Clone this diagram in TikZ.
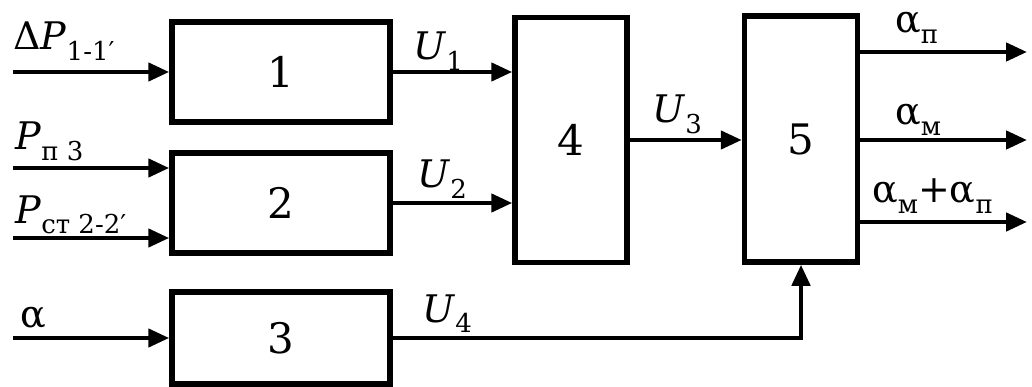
\documentclass[tikz,border=0pt]{standalone}
\usepackage{fontspec}
\setmainfont{DejaVu Serif}
\newfontfamily\lserif{DejaVu Serif}
\usetikzlibrary{arrows.meta}
\newcommand{\lbsub}[1]{\raisebox{-0.28em}{\fontsize{26}{26}\selectfont #1}}
\begin{document}
\begin{tikzpicture}[x=1pt,y=-1pt,
  blk/.style={draw, line width=5.5pt, inner sep=0pt, font=\lserif\fontsize{42}{42}\selectfont},
  arr/.style={line width=4.5pt, -{Triangle[length=21pt,width=18pt]}},
  lbl/.style={anchor=base west, inner sep=0pt, font=\lserif\fontsize{38}{38}\selectfont}]
\useasboundingbox (0,0) rectangle (1032,387);
\node[blk, minimum width=218pt, minimum height=100pt] (b1) at (281,72) {1};
\node[blk, minimum width=218pt, minimum height=100pt] (b2) at (281,203) {2};
\node[blk, minimum width=218pt, minimum height=92pt] (b3) at (281,338) {3};
\node[blk, minimum width=112pt, minimum height=245pt] (b4) at (571,140) {4};
\node[blk, minimum width=113pt, minimum height=246pt] (b5) at (801,139) {5};
% inputs
\coordinate (i1) at (13,72);
\coordinate (i2) at (13,168);
\coordinate (i3) at (13,238);
\coordinate (i4) at (13,338);
\draw[arr] (i1) -- (i1 -| b1.west);
\draw[arr] (i2) -- (i2 -| b2.west);
\draw[arr] (i3) -- (i3 -| b2.west);
\draw[arr] (i4) -- (i4 -| b3.west);
% internal
\draw[arr] (b1.east) -- (b1.east -| b4.west);
\draw[arr] (b2.east) -- (b2.east -| b4.west);
\draw[arr] (b4.east) -- (b4.east -| b5.west);
\draw[arr] (b3.east) -- (b3.east -| b5.south) -- (b5.south);
% outputs
\coordinate (o1) at (1027,52);
\coordinate (o2) at (1027,140);
\coordinate (o3) at (1027,222);
\draw[arr] (o1 -| b5.east) -- (o1);
\draw[arr] (o2 -| b5.east) -- (o2);
\draw[arr] (o3 -| b5.east) -- (o3);
% labels
\node[lbl] (l1) at (13,50) {Δ\textit{P}\lbsub{1-1′}};
\node[lbl] (l2) at (15,150) {\textit{P}\lbsub{п 3}};
\node[lbl] (l3) at (15,223) {\textit{P}\lbsub{ст 2-2′}};
\node[lbl] (l4) at (20,327) {α};
\node[lbl] (u1) at (413,60) {\textit{U}\lbsub{1}};
\node[lbl] (u2) at (417,188) {\textit{U}\lbsub{2}};
\node[lbl] (u3) at (652,123) {\textit{U}\lbsub{3}};
\node[lbl] (u4) at (422,322) {\textit{U}\lbsub{4}};
\node[lbl] (a1) at (895,33) {α\lbsub{п}};
\node[lbl] (a2) at (895,125) {α\lbsub{м}};
\node[lbl] (a3) at (872,203) {α\lbsub{м}+α\lbsub{п}};
\end{tikzpicture}
\end{document}
